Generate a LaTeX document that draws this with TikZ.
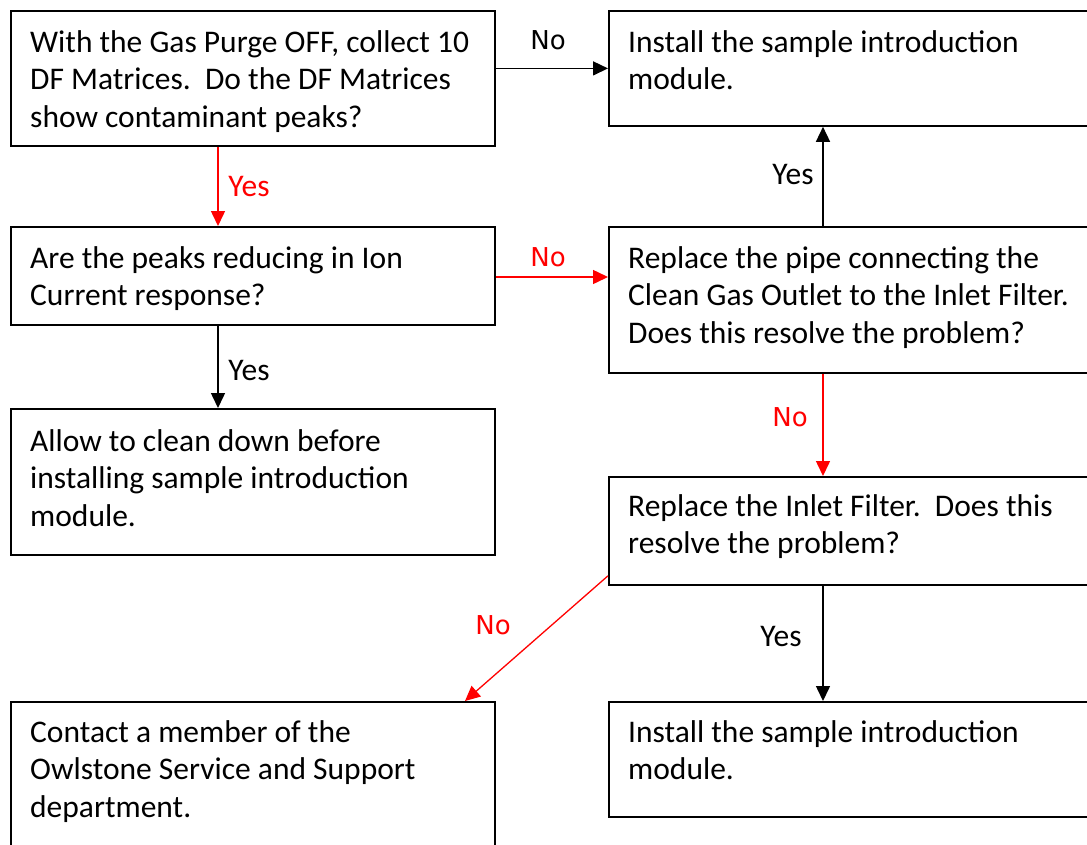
\documentclass[tikz,border=0pt]{standalone}
\usepackage{fontspec}
\setmainfont{Carlito}
\newfontfamily\labelsans{DejaVu Sans}
\usetikzlibrary{arrows.meta,calc}
\newcommand\topstrut{\rule{0pt}{25pt}}
\begin{document}
\begin{tikzpicture}[x=1pt,y=-1pt,
  box/.style={draw, line width=1.8pt, inner sep=0pt, anchor=north west},
  txt/.style={anchor=north west, inner sep=0pt, align=left,
    font=\fontsize{31.5}{37.6}\selectfont},
  lbl/.style={inner sep=0pt, font=\fontsize{31.5}{37.6}\selectfont},
  nolbl/.style={inner sep=0pt, font=\labelsans\fontsize{26}{30}\selectfont},
  link/.style={line width=1.5pt, -{Triangle[length=15pt,width=14pt]}},
  nolink/.style={link, red},
]
\fill[white] (0,0) rectangle (1087,844);
\clip (0,0) rectangle (1087,844);

% boxes
\node[box, minimum width=484pt, minimum height=135pt] (A) at (10,10) {};
\node[box, minimum width=500pt, minimum height=115pt] (B) at (608,10) {};
\node[box, minimum width=484pt, minimum height=98pt]  (C) at (10,226) {};
\node[box, minimum width=500pt, minimum height=146pt] (D) at (608,226) {};
\node[box, minimum width=484pt, minimum height=146pt] (E) at (10,408) {};
\node[box, minimum width=500pt, minimum height=108pt] (F) at (608,476) {};
\node[box, minimum width=484pt, minimum height=200pt] (G) at (10,701) {};
\node[box, minimum width=500pt, minimum height=115pt] (H) at (608,701) {};

% box texts (top edge = first baseline - 25)
\node[txt] (tA) at (30,27) {\topstrut With the Gas Purge OFF, collect 10\\DF Matrices.\ \ Do the DF Matrices\\show contaminant peaks?};
\node[txt] (tB) at (628,27) {\topstrut Install the sample introduction\\module.};
\node[txt] (tC) at (30,243) {\topstrut Are the peaks reducing in Ion\\Current response?};
\node[txt] (tD) at (628,243) {\topstrut Replace the pipe connecting the\\Clean Gas Outlet to the Inlet Filter.\\Does this resolve the problem?};
\node[txt] (tE) at (30,426) {\topstrut Allow to clean down before\\installing sample introduction\\module.};
\node[txt] (tF) at (628,491) {\topstrut Replace the Inlet Filter.\ \ Does this\\resolve the problem?};
\node[txt] (tG) at (30,717) {\topstrut Contact a member of the\\Owlstone Service and Support\\department.};
\node[txt] (tH) at (628,717) {\topstrut Install the sample introduction\\module.};

% connector columns
\coordinate (lx) at (218,0);
\coordinate (rx) at (823,0);

% connectors
\draw[link] (A.east |- B.west) -- (B.west);
\draw[nolink] (A.south -| lx) -- (C.north -| lx);
\draw[nolink] (C.east |- 0,277) -- (D.west |- 0,277);
\draw[link] (D.north -| rx) -- (B.south -| rx);
\draw[link] (C.south -| lx) -- (E.north -| lx);
\draw[nolink] (D.south -| rx) -- (F.north -| rx);
\draw[nolink, line width=1.3pt] ($(F.south west)+(0,-10)$) -- ($(G.north west)+(455,0)$);
\draw[link] (F.south -| rx) -- (H.north -| rx);

% connector labels
\node[nolbl] (l1) at (548,40) {No};
\node[lbl, red] (l2) at (249,187) {Yes};
\node[nolbl, red] (l3) at (548,257) {No};
\node[lbl] (l4) at (793,175) {Yes};
\node[lbl] (l5) at (249,371) {Yes};
\node[nolbl, red] (l6) at (790,417) {No};
\node[nolbl, red] (l7) at (493,625) {No};
\node[lbl] (l8) at (781,636) {Yes};
\end{tikzpicture}
\end{document}
